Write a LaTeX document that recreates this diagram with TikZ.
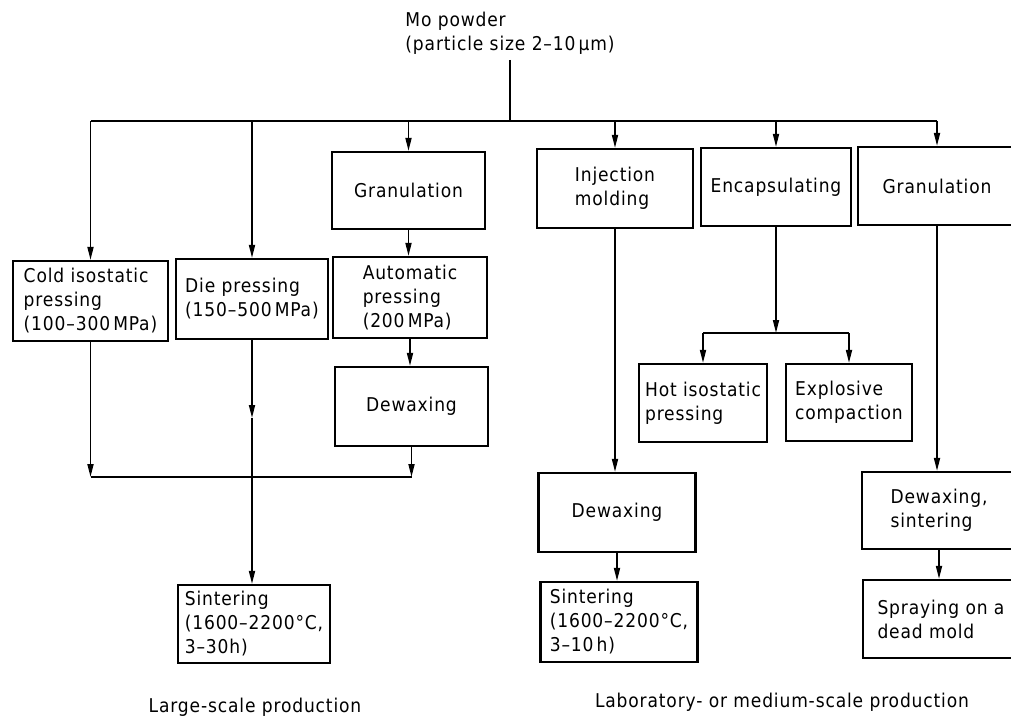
\documentclass[tikz,border=0pt]{standalone}
\usepackage{fontspec}
\setmainfont[LetterSpace=4.5]{DejaVu Sans Condensed}
\usetikzlibrary{arrows.meta}
\tikzset{
  box/.style={draw, line width=2.2pt, align=left, inner sep=0pt, font=\fontsize{19}{24}\selectfont},
  lbl/.style={align=left, inner sep=0pt, font=\fontsize{19}{24}\selectfont},
  conn/.style={line width=1.7pt},
  arr/.style={conn, -{Triangle[length=13pt,width=6pt]}}
}
\begin{document}
\begin{tikzpicture}[x=1pt,y=-1pt]
\useasboundingbox[fill=white] (0,0) rectangle (1011,717);
\clip (0,0) rectangle (1011,717);
% title
\node[lbl] (mo) at (510,33) {Mo powder\\(particle size 2–10\,µm)};
% boxes
\node[box, minimum width=155pt, minimum height=80pt] (cold) at (90.5,301) {Cold isostatic\\pressing\\(100–300\,MPa)};
\node[box, minimum width=152pt, minimum height=80pt] (die) at (252,299) {Die pressing\\(150–500\,MPa)};
\node[box, minimum width=153pt, minimum height=77pt] (gran1) at (408.5,190.5) {Granulation};
\node[box, minimum width=154pt, minimum height=81pt] (auto) at (410,297.5) {Automatic\\pressing\\(200\,MPa)};
\node[box, minimum width=153pt, minimum height=79pt] (dew1) at (411.5,406.5) {Dewaxing};
\node[box, minimum width=152pt, minimum height=78pt] (sint1) at (254,624) {Sintering\\(1600–2200°C,\\3–30h)};
\node[box, minimum width=156pt, minimum height=79pt] (inj) at (615,188.5) {Injection\\molding};
\node[box, minimum width=150pt, minimum height=78pt] (enc) at (776,187) {Encapsulating};
\node[box, minimum width=158pt, minimum height=78pt] (gran2) at (937,186) {Granulation};
\node[box, minimum width=128pt, minimum height=78pt] (hip) at (703,403) {Hot isostatic\\pressing};
\node[box, minimum width=126pt, minimum height=77pt] (exp) at (849,402.5) {Explosive\\compaction};
\node[box, minimum width=157pt, minimum height=79pt] (dew2) at (617,512.5) {Dewaxing};
\node[box, minimum width=157pt, minimum height=80pt] (sint2) at (619,622) {Sintering\\(1600–2200°C,\\3–10\,h)};
\node[box, minimum width=154pt, minimum height=77pt] (dews) at (939,510.5) {Dewaxing,\\sintering};
\node[box, minimum width=156pt, minimum height=78pt] (spray) at (941,619) {Spraying on a\\dead mold};
% captions
\node[lbl] (capL) at (255,707) {Large-scale production};
\node[lbl] (capR) at (782,702) {Laboratory- or medium-scale production};
% helper coordinates
\coordinate (moB) at (510,60);
\coordinate (bus) at (0,121);
\coordinate (merge) at (0,477);
\coordinate (dmid) at (0,418);
\coordinate (ebus) at (0,333);
% main bus
\draw[conn] (moB) -- (moB |- bus);
\draw[conn] (cold.north |- bus) -- (gran2.north |- bus);
\foreach \n in {cold,die,gran1,inj,enc,gran2}
  \draw[arr] (\n.north |- bus) -- (\n.north);
% left branch
\draw[arr] (gran1.south) -- (auto.north -| gran1.south);
\draw[arr] (auto.south) -- (dew1.north -| auto.south);
\draw[arr] (cold.south) -- (cold.south |- merge);
\draw[arr] (dew1.south) -- (dew1.south |- merge);
\draw[conn] (cold.south |- merge) -- (dew1.south |- merge);
\draw[arr] (die.south) -- (die.south |- dmid);
\draw[arr] (die.south |- dmid) -- (die.south |- sint1.north);
% right branch
\draw[arr] (inj.south) -- (inj.south |- dew2.north);
\draw[arr] (dew2.south) -- (dew2.south |- sint2.north);
\draw[arr] (enc.south) -- (enc.south |- ebus);
\draw[conn] (hip.north |- ebus) -- (exp.north |- ebus);
\draw[arr] (hip.north |- ebus) -- (hip.north);
\draw[arr] (exp.north |- ebus) -- (exp.north);
\draw[arr] (gran2.south) -- (gran2.south |- dews.north);
\draw[arr] (dews.south) -- (dews.south |- spray.north);
\end{tikzpicture}
\end{document}
